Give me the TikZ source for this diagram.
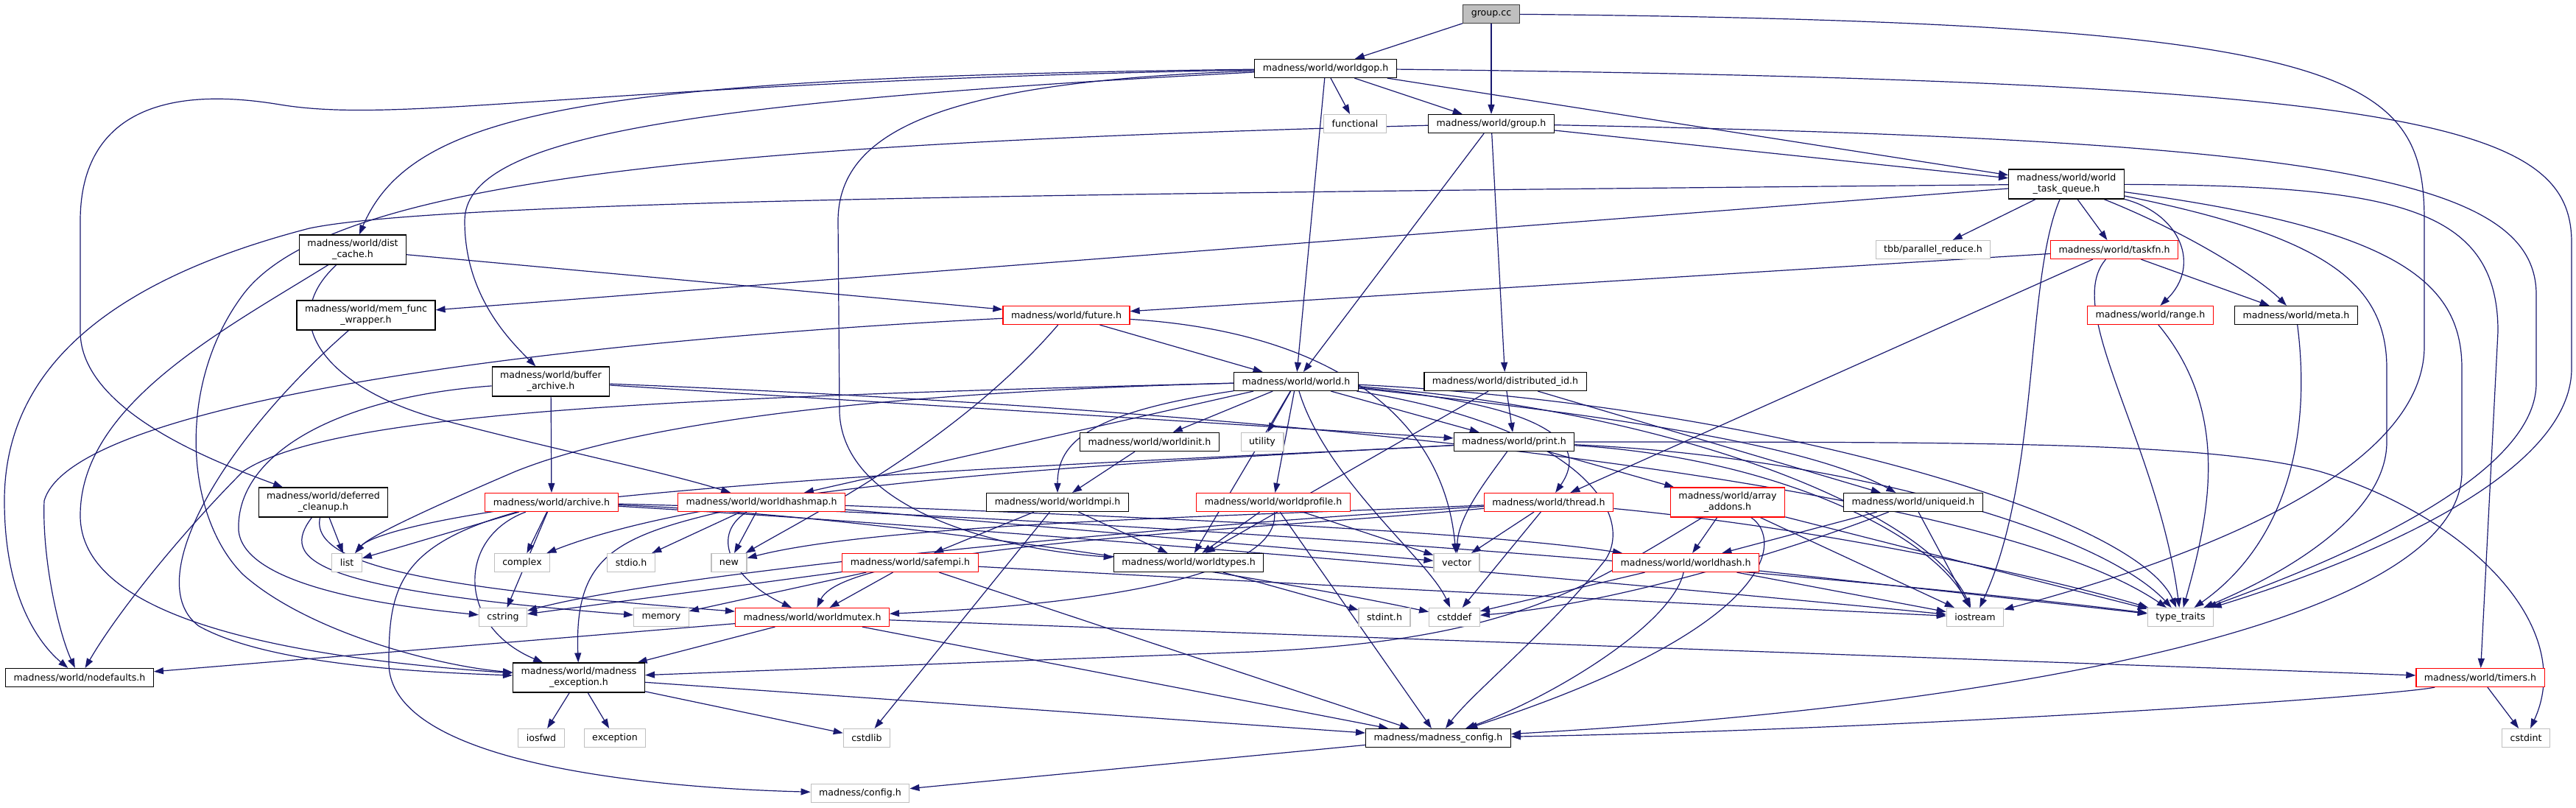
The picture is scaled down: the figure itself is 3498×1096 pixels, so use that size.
\documentclass[tikz,border=0pt]{standalone}
\usepackage{fontspec}
\setmainfont{DejaVu Sans}
\usepackage{tikz}
\usetikzlibrary{arrows.meta,backgrounds}
\usepackage{xcolor}
\definecolor{edgeblue}{RGB}{25,25,112}
\definecolor{sysgray}{RGB}{191,191,191}
\definecolor{darkline}{RGB}{64,64,64}

\begin{document}
\begin{tikzpicture}[x=1pt, y=-1pt,
  hbox/.style={draw=black, line width=1.2pt, fill=white, minimum height=25pt,
    inner xsep=11pt, inner ysep=4pt, align=center,
    font=\fontsize{12.6}{15}\selectfont},
  rbox/.style={hbox, draw=red},
  sbox/.style={hbox, draw=sysgray},
  mainbox/.style={hbox, draw=darkline, fill=sysgray},
  incl/.style={draw=edgeblue, line width=1.2pt, -{Triangle[length=13pt,width=9pt]}}]
\useasboundingbox (0,0) rectangle (3498,1096);

\node[mainbox] (gcc) at (2025,19) {group.cc};
\node[hbox] (gop) at (1800,93) {madness/world/worldgop.h};
\node[sbox] (func) at (1840,168) {functional};
\node[hbox] (grp) at (2025,168) {madness/world/group.h};
\node[hbox, minimum height=40pt] (wtq) at (2806,250) {madness/world/world\\\_task\_queue.h};
\node[sbox] (tbb) at (2625,339) {tbb/parallel\_reduce.h};
\node[rbox] (taskfn) at (2871,339) {madness/world/taskfn.h};
\node[hbox, minimum height=40pt] (dcache) at (479,339) {madness/world/dist\\\_cache.h};
\node[hbox, minimum height=40pt] (memfn) at (497,428) {madness/world/mem\_func\\\_wrapper.h};
\node[rbox] (future) at (1448,428) {madness/world/future.h};
\node[rbox] (range) at (2920,428) {madness/world/range.h};
\node[hbox] (meta) at (3118,428) {madness/world/meta.h};
\node[hbox] (world) at (1760,518) {madness/world/world.h};
\node[hbox] (distid) at (2044,518) {madness/world/distributed\_id.h};
\node[hbox, minimum height=40pt] (buffer) at (748,518) {madness/world/buffer\\\_archive.h};
\node[hbox] (winit) at (1561,600) {madness/world/worldinit.h};
\node[sbox] (utility) at (1714,600) {utility};
\node[hbox] (print) at (2056,600) {madness/world/print.h};
\node[hbox, minimum height=40pt] (dclean) at (439,682) {madness/world/deferred\\\_cleanup.h};
\node[rbox] (archive) at (749,682) {madness/world/archive.h};
\node[rbox] (hashmap) at (1034,682) {madness/world/worldhashmap.h};
\node[hbox] (mpi) at (1436,682) {madness/world/worldmpi.h};
\node[rbox] (profile) at (1729,682) {madness/world/worldprofile.h};
\node[rbox] (thread) at (2103,682) {madness/world/thread.h};
\node[rbox, minimum height=40pt] (addons) at (2346,682) {madness/world/array\\\_addons.h};
\node[hbox] (uniqueid) at (2598,682) {madness/world/uniqueid.h};
\node[sbox] (list) at (471,764) {list};
\node[sbox] (complex) at (709,764) {complex};
\node[sbox] (stdio) at (857,764) {stdio.h};
\node[sbox] (new) at (990,764) {new};
\node[rbox] (safempi) at (1236,764) {madness/world/safempi.h};
\node[hbox] (wtypes) at (1614,764) {madness/world/worldtypes.h};
\node[sbox] (vector) at (1978,764) {vector};
\node[rbox] (whash) at (2289,764) {madness/world/worldhash.h};
\node[sbox] (cstring) at (683,838) {cstring};
\node[sbox] (memory) at (898,838) {memory};
\node[rbox] (mutex) at (1103,838) {madness/world/worldmutex.h};
\node[sbox] (stdint) at (1880,838) {stdint.h};
\node[sbox] (cstddef) at (1975,838) {cstddef};
\node[sbox] (iostream) at (2682,838) {iostream};
\node[sbox] (traits) at (2961,838) {type\_traits};
\node[hbox] (nodef) at (108,920) {madness/world/nodefaults.h};
\node[hbox, minimum height=40pt] (mexc) at (786,920) {madness/world/madness\\\_exception.h};
\node[rbox] (timers) at (3368,920) {madness/world/timers.h};
\node[sbox] (iosfwd) at (735,1002) {iosfwd};
\node[sbox] (exception) at (835,1002) {exception};
\node[sbox] (cstdlib) at (1177,1002) {cstdlib};
\node[hbox] (mconfig) at (1953,1002) {madness/madness\_config.h};
\node[sbox] (cstdint) at (3430,1002) {cstdint};
\node[sbox] (config) at (1168,1077) {madness/config.h};

\begin{pgfonlayer}{background}
\fill[white] (0,0) rectangle (3498,1096);
\draw[incl] (gcc) -- (gop);
\draw[incl] (gcc) -- (grp);
\draw[incl] (gcc) .. controls (3200,30) and (3292,100) .. (3292,300) -- (3292,470) .. controls (3292,620) and (3050,740) .. (iostream);
\draw[incl] (gop) -- (func);
\draw[incl] (gop) -- (grp);
\draw[incl] (gop) -- (wtq);
\draw[incl] (gop) -- (world);
\draw[incl] (gop) .. controls (3300,110) and (3492,170) .. (3492,330) -- (3492,500) .. controls (3492,660) and (3150,780) .. (traits);
\draw[incl] (gop) .. controls (800,105) and (560,150) .. (dcache);
\draw[incl] (gop) .. controls (900,140) and (631,190) .. (631,300) .. controls (631,400) and (690,460) .. (buffer);
\draw[incl] (gop) .. controls (800,112) and (550,170) .. (380,142) .. controls (200,112) and (109,170) .. (109,300) -- (109,450) .. controls (109,560) and (300,630) .. (dclean);
\draw[incl] (gop) .. controls (1300,110) and (1138,170) .. (1138,300) -- (1140,560) .. controls (1145,690) and (1350,745) .. (wtypes);
\draw[incl] (grp) -- (wtq);
\draw[incl] (grp) -- (world);
\draw[incl] (grp) -- (distid);
\draw[incl] (grp) .. controls (3150,190) and (3444,240) .. (3444,400) -- (3444,520) .. controls (3444,660) and (3120,780) .. (traits);
\draw[incl] (grp) .. controls (1000,195) and (450,240) .. (330,400) .. controls (240,520) and (250,700) .. (330,780) .. controls (420,860) and (600,905) .. (mexc);
\draw[incl] (wtq) -- (tbb);
\draw[incl] (wtq) -- (taskfn);
\draw[incl] (wtq) .. controls (2960,290) and (2990,360) .. (range);
\draw[incl] (wtq) .. controls (2980,320) and (3070,380) .. (meta);
\draw[incl] (wtq) -- (memfn);
\draw[incl] (wtq) .. controls (1500,262) and (600,272) .. (420,310) .. controls (150,380) and (6,500) .. (6,680) .. controls (6,820) and (60,880) .. (nodef);
\draw[incl] (wtq) .. controls (3250,252) and (3392,280) .. (3392,450) -- (timers);
\draw[incl] (wtq) .. controls (3150,320) and (3241,380) .. (3241,500) -- (3241,600) .. controls (3241,700) and (3100,780) .. (traits);
\draw[incl] (wtq) .. controls (3250,310) and (3343,380) .. (3343,500) -- (3343,640) .. controls (3343,850) and (2700,960) .. (mconfig);
\draw[incl] (wtq) .. controls (2750,380) and (2770,650) .. (iostream);
\draw[incl] (taskfn) -- (future);
\draw[incl] (taskfn) -- (meta);
\draw[incl] (taskfn) -- (thread);
\draw[incl] (taskfn) .. controls (2800,420) and (2930,600) .. (traits);
\draw[incl] (dcache) -- (future);
\draw[incl] (dcache) .. controls (370,440) and (450,530) .. (600,570) .. controls (750,610) and (900,640) .. (hashmap);
\draw[incl] (dcache) .. controls (300,450) and (109,550) .. (109,700) .. controls (109,830) and (350,890) .. (mexc);
\draw[incl] (memfn) .. controls (300,600) and (190,790) .. (270,850) .. controls (360,900) and (550,912) .. (mexc);
\draw[incl] (future) -- (world);
\draw[incl] (future) .. controls (800,460) and (100,540) .. (60,680) .. controls (57,760) and (80,860) .. (nodef);
\draw[incl] (future) .. controls (1300,600) and (1100,700) .. (new);
\draw[incl] (future) .. controls (1800,450) and (1960,560) .. (vector);
\draw[incl] (range) .. controls (3030,560) and (3000,700) .. (traits);
\draw[incl] (meta) .. controls (3140,600) and (3100,740) .. (traits);
\draw[incl] (buffer) -- (archive);
\draw[incl] (buffer) -- (print);
\draw[incl] (buffer) .. controls (450,540) and (320,620) .. (324,720) .. controls (330,790) and (500,820) .. (cstring);
\draw[incl] (buffer) .. controls (1800,560) and (2700,660) .. (traits);
\draw[incl] (world) -- (winit);
\draw[incl] (world) -- (utility);
\draw[incl] (world) .. controls (1480,560) and (1436,600) .. (mpi);
\draw[incl] (world) -- (profile);
\draw[incl] (world) -- (hashmap);
\draw[incl] (world) -- (print);
\draw[incl] (world) .. controls (2100,550) and (2160,600) .. (thread);
\draw[incl] (world) .. controls (2150,560) and (2450,600) .. (uniqueid);
\draw[incl] (world) .. controls (1300,530) and (900,560) .. (700,640) .. controls (560,700) and (500,730) .. (list);
\draw[incl] (world) .. controls (900,540) and (450,560) .. (330,640) .. controls (250,720) and (160,830) .. (nodef);
\draw[incl] (world) .. controls (2300,560) and (2620,700) .. (iostream);
\draw[incl] (world) .. controls (1800,650) and (1940,760) .. (cstddef);
\draw[incl] (world) .. controls (2400,550) and (2900,700) .. (traits);
\draw[incl] (world) -- (wtypes);
\draw[incl] (world) .. controls (2150,580) and (2220,700) .. (2180,760) .. controls (2100,860) and (2000,940) .. (mconfig);
\draw[incl] (distid) -- (print);
\draw[incl] (distid) -- (uniqueid);
\draw[incl] (distid) -- (wtypes);
\draw[incl] (winit) -- (mpi);
\draw[incl] (dclean) -- (list);
\draw[incl] (dclean) .. controls (380,760) and (420,800) .. (memory);
\draw[incl] (dclean) .. controls (420,770) and (600,800) .. (mutex);
\draw[incl] (archive) -- (list);
\draw[incl] (archive) -- (complex);
\draw[incl] (archive) -- (cstring);
\draw[incl] (archive) .. controls (620,730) and (620,850) .. (mexc);
\draw[incl] (archive) .. controls (540,740) and (528,800) .. (528,900) .. controls (528,1040) and (900,1070) .. (config);
\draw[incl] (archive) .. controls (1200,700) and (1700,780) .. (cstddef);
\draw[incl] (archive) .. controls (1400,720) and (2300,800) .. (iostream);
\draw[incl] (archive) .. controls (1500,700) and (2500,780) .. (traits);
\draw[incl] (hashmap) -- (new);
\draw[incl] (hashmap) -- (stdio);
\draw[incl] (hashmap) .. controls (960,730) and (1000,790) .. (mutex);
\draw[incl] (hashmap) .. controls (830,730) and (780,760) .. (mexc);
\draw[incl] (hashmap) .. controls (1500,700) and (2000,720) .. (whash);
\draw[incl] (hashmap) -- (vector);
\draw[incl] (mpi) -- (safempi);
\draw[incl] (mpi) -- (wtypes);
\draw[incl] (mpi) -- (cstdlib);
\draw[incl] (profile) -- (wtypes);
\draw[incl] (profile) -- (vector);
\draw[incl] (profile) .. controls (1740,780) and (1500,820) .. (mutex);
\draw[incl] (profile) -- (mconfig);
\draw[incl] (print) .. controls (1700,620) and (1100,640) .. (700,690) .. controls (560,710) and (500,730) .. (list);
\draw[incl] (print) .. controls (1600,625) and (1000,650) .. (complex);
\draw[incl] (print) .. controls (2020,650) and (1980,700) .. (vector);
\draw[incl] (print) -- (addons);
\draw[incl] (print) .. controls (2400,620) and (2620,720) .. (iostream);
\draw[incl] (print) .. controls (2500,620) and (2850,720) .. (traits);
\draw[incl] (print) .. controls (2700,600) and (3000,600) .. (3150,640) .. controls (3350,700) and (3500,850) .. (cstdint);
\draw[incl] (thread) .. controls (1700,700) and (1200,710) .. (new);
\draw[incl] (thread) -- (vector);
\draw[incl] (thread) -- (cstddef);
\draw[incl] (thread) .. controls (1500,720) and (900,780) .. (cstring);
\draw[incl] (thread) .. controls (1700,720) and (1150,740) .. (mutex);
\draw[incl] (thread) .. controls (2500,720) and (2800,790) .. (traits);
\draw[incl] (addons) -- (whash);
\draw[incl] (addons) -- (iostream);
\draw[incl] (addons) .. controls (2150,800) and (2050,870) .. (1700,885) -- (mexc);
\draw[incl] (addons) .. controls (2420,730) and (2420,850) .. (mconfig);
\draw[incl] (addons) -- (traits);
\draw[incl] (uniqueid) -- (whash);
\draw[incl] (uniqueid) -- (iostream);
\draw[incl] (uniqueid) .. controls (2450,740) and (2200,820) .. (cstddef);
\draw[incl] (safempi) -- (cstring);
\draw[incl] (safempi) -- (memory);
\draw[incl] (safempi) -- (mutex);
\draw[incl] (safempi) -- (mconfig);
\draw[incl] (safempi) .. controls (1700,790) and (2300,820) .. (iostream);
\draw[incl] (wtypes) -- (stdint);
\draw[incl] (whash) -- (cstddef);
\draw[incl] (whash) -- (iostream);
\draw[incl] (whash) -- (traits);
\draw[incl] (whash) .. controls (2270,850) and (2100,950) .. (mconfig);
\draw[incl] (mutex) -- (nodef);
\draw[incl] (mutex) -- (mexc);
\draw[incl] (mutex) -- (mconfig);
\draw[incl] (mutex) -- (timers);
\draw[incl] (mexc) -- (iosfwd);
\draw[incl] (mexc) -- (exception);
\draw[incl] (mexc) -- (cstdlib);
\draw[incl] (mexc) -- (mconfig);
\draw[incl] (mconfig) -- (config);
\draw[incl] (timers) .. controls (3250,945) and (2600,990) .. (mconfig);
\draw[incl] (timers) -- (cstdint);
\end{pgfonlayer}
\end{tikzpicture}
\end{document}
